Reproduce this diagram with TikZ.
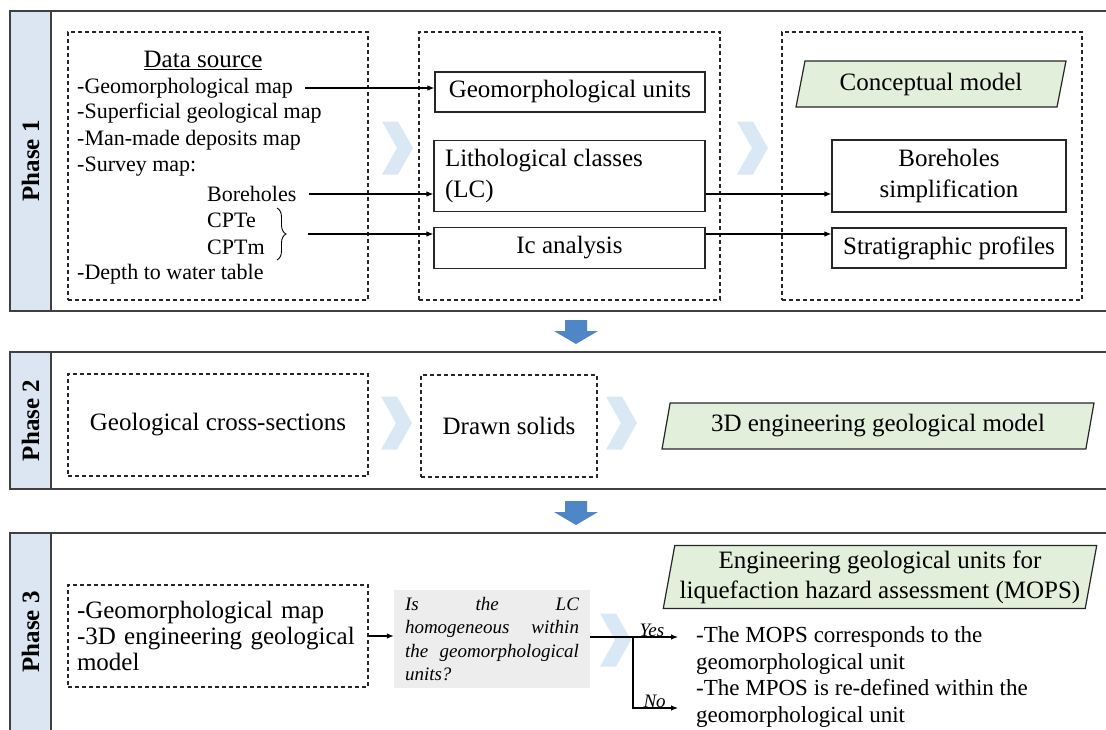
\documentclass[tikz,border=0pt]{standalone}
\usepackage{fontspec}
\setmainfont{Liberation Serif}
\usetikzlibrary{shapes.geometric,arrows.meta,decorations.pathreplacing}

\definecolor{phaseblue}{HTML}{DCE6F2}
\definecolor{chevblue}{HTML}{DAE7F4}
\definecolor{modelgreen}{HTML}{E2EFDA}
\definecolor{downblue}{HTML}{4F86C6}
\definecolor{askgray}{HTML}{EDEDED}

\newcommand{\boxfont}{\fontsize{25}{31}\selectfont}
\newcommand{\listfont}{\fontsize{22}{26}\selectfont}
\newcommand{\askfont}{\fontsize{19}{23.5}\selectfont\itshape}
\newcommand{\resfont}{\fontsize{23}{26.5}\selectfont}

\tikzset{
  panel/.style={draw=black!75, line width=1.5pt},
  phaselab/.style={draw=black!75, line width=1.5pt, fill=phaseblue, rotate=90,
    minimum height=41pt, inner sep=0pt, font=\fontsize{25}{25}\selectfont\bfseries},
  dashbox/.style={draw=black!85, line width=1.1pt, dash pattern=on 4pt off 3pt,
    inner sep=0pt, font=\boxfont},
  stepbox/.style={draw=black!85, line width=1.2pt, inner sep=0pt, font=\boxfont, align=center},
  modelbox/.style={trapezium, trapezium stretches=true, draw=black!85, line width=1.2pt,
    fill=modelgreen, inner sep=0pt, font=\boxfont, align=center},
  src/.style={anchor=west, inner sep=0pt, font=\listfont},
  arr/.style={-{Latex[length=7pt,width=5.5pt]}, line width=1.1pt},
  yesno/.style={above, inner sep=0pt, font=\askfont},
  chevron/.pic={\fill[chevblue] (-15,-26.5) -- (1,-26.5) -- (16,0) -- (1,26.5) -- (-15,26.5) -- (0,0) -- cycle;},
  downarrow/.pic={\fill[downblue] (-11,0) -- (11,0) -- (11,11) -- (22,11) -- (0,24) -- (-22,11) -- (-11,11) -- cycle;},
}

\begin{document}
\begin{tikzpicture}[x=1pt,y=-1pt]
\useasboundingbox (0,0) rectangle (1106,729);

% panels
\draw[panel] (10,11) rectangle (1110,311);
\draw[panel] (10,352) rectangle (1110,489);
\draw[panel] (10,533) rectangle (1110,731);
\node[phaselab, minimum width=300pt] (ph1) at (30.5,161) {Phase 1};
\node[phaselab, minimum width=137pt] (ph2) at (30.5,420.5) {Phase 2};
\node[phaselab, minimum width=198pt] (ph3) at (30.5,632) {Phase 3};

\pic at (576,320) {downarrow};
\pic at (576,501) {downarrow};

\pic at (397,148) {chevron};
\pic at (752,148) {chevron};
\pic at (396,423) {chevron};
\pic at (621,423) {chevron};
\pic at (615,640) {chevron};

% phase 1
\node[dashbox, minimum width=300pt, minimum height=268pt] (data) at (218,166) {};
\node[dashbox, minimum width=301pt, minimum height=268pt] (proc) at (569.5,166) {};
\node[dashbox, minimum width=300pt, minimum height=268pt] (concept) at (932,166) {};

\node[inner sep=0pt, font=\boxfont] (dstitle) at (203,60) {\underline{Data source}};
\node[src] (geomap) at (77,88) {-Geomorphological map};
\node[src] (supmap) at (77,113.5) {-Superficial geological map};
\node[src] (manmap) at (77,140) {-Man-made deposits map};
\node[src] (survey) at (77,167) {-Survey map:};
\node[src] (bh) at (207,194) {Boreholes};
\node[src] (cpte) at (207,220) {CPTe};
\node[src] (cptm) at (207,247) {CPTm};
\node[src] (depth) at (77,274) {-Depth to water table};

\node[stepbox, minimum width=270pt, minimum height=40pt] (units) at (570,92) {Geomorphological units};
\node[stepbox, minimum width=271pt, minimum height=71pt, text width=249pt, align=flush left, inner xsep=11pt] (lc) at (569.5,176) {Lithological classes\\(LC)};
\node[stepbox, minimum width=271pt, minimum height=41pt] (ic) at (569.5,248) {Ic analysis};

\node[modelbox, trapezium left angle=74, trapezium right angle=106, minimum width=270pt, minimum height=46pt] (cmodel) at (931,84) {Conceptual model};
\node[stepbox, minimum width=234pt, minimum height=72pt] (bsimp) at (949,176) {Boreholes\\simplification};
\node[stepbox, minimum width=234pt, minimum height=40pt] (strat) at (949,248) {Stratigraphic profiles};

\draw[decorate, decoration={brace, amplitude=9pt}, line width=0.9pt] (277,208) -- (277,260);
\coordinate (cptout) at (308,234);

\draw[arr] ([xshift=12pt]geomap.east) -- (geomap.east -| units.west);
\draw[arr] ([xshift=12pt]bh.east) -- (bh.east -| lc.west);
\draw[arr] (cptout) -- (cptout -| ic.west);
\draw[arr] (bh.east -| lc.east) -- (bh.east -| bsimp.west);
\draw[arr] (cptout -| ic.east) -- (cptout -| strat.west);

% phase 2
\node[dashbox, minimum width=300pt, minimum height=102pt] (xsec) at (218,425) {Geological cross-sections};
\node[dashbox, minimum width=176pt, minimum height=102pt] (solids) at (509,426) {Drawn solids};
\node[modelbox, trapezium left angle=74, trapezium right angle=106, minimum width=434pt, minimum height=46pt] (model3d) at (878,426) {3D engineering geological model};

% phase 3
\node[dashbox, minimum width=300pt, minimum height=102pt, text width=282pt, align=left, font=\fontsize{25}{26}\selectfont] (in3) at (218,636) {-Geomorphological map\\-3D engineering geological\\model};
\node[fill=askgray, minimum width=196pt, minimum height=98pt, text width=174pt, inner xsep=11pt, align=justify, font=\askfont] (ask) at (492,639) {Is the LC\linebreak homogeneous within\linebreak the geomorphological\linebreak units?};
\node[modelbox, trapezium left angle=78, trapezium right angle=102, minimum width=436pt, minimum height=63pt, font=\fontsize{25}{30}\selectfont] (mops) at (880,577) {Engineering geological units for\\liquefaction hazard assessment (MOPS)};
\node[anchor=west, inner sep=0pt, align=left, font=\resfont] (result) at (696,677) {-The MOPS corresponds to the\\geomorphological unit\\-The MPOS is re-defined within the\\geomorphological unit};

\coordinate (split) at (633,637);
\coordinate (yesend) at (678,637);
\coordinate (noend) at (678,708);
\draw[arr] (in3.east) -- (in3.east -| ask.west);
\draw[line width=1.1pt] (ask.east |- split) -- (split);
\draw[arr] (split) -- node[yesno, pos=0.42] {Yes} (yesend);
\draw[arr] (split) |- node[yesno, pos=0.74] {No} (noend);

\end{tikzpicture}
\end{document}
